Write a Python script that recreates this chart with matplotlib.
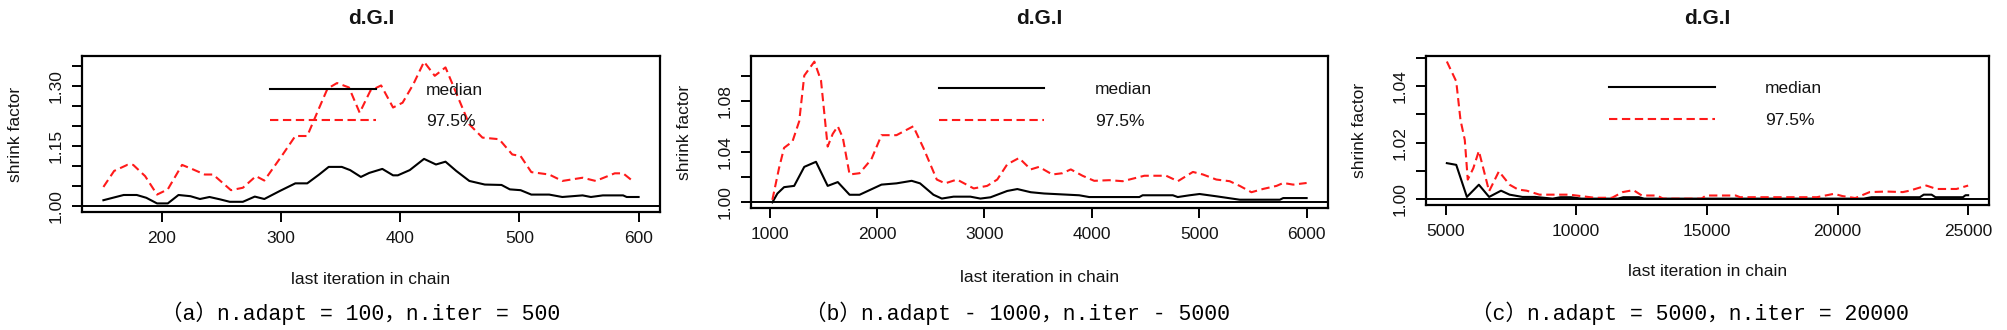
import matplotlib
matplotlib.use("Agg")
import matplotlib.pyplot as plt
from matplotlib.lines import Line2D

# ---- data: Gelman-Rubin shrink factor for d.G.I, three run lengths ----
# (a) n.adapt = 100, n.iter = 500
a_med_x = [151, 168, 179, 187, 196, 205, 214, 224, 232, 240, 249, 257, 268, 278, 286,
           299, 312, 322, 332, 340, 351, 358, 367, 374, 385, 394, 398, 408, 420, 430,
           438, 447, 458, 471, 485, 492, 501, 510, 525, 536, 553, 560, 570, 587, 590, 600]
a_med_y = [1.015, 1.028, 1.028, 1.021, 1.007, 1.007, 1.028, 1.025, 1.018, 1.023, 1.017,
           1.011, 1.011, 1.024, 1.018, 1.038, 1.057, 1.057, 1.079, 1.098, 1.098, 1.090,
           1.073, 1.083, 1.093, 1.077, 1.077, 1.090, 1.118, 1.104, 1.111, 1.088, 1.063,
           1.054, 1.053, 1.042, 1.040, 1.029, 1.029, 1.023, 1.027, 1.023, 1.027, 1.027,
           1.023, 1.023]
a_q97_x = [151, 160, 171, 176, 186, 196, 205, 217, 226, 236, 243, 258, 268, 279, 286,
           301, 312, 322, 331, 339, 347, 357, 366, 375, 384, 394, 402, 411, 420, 429,
           438, 448, 458, 469, 483, 494, 501, 510, 525, 536, 553, 564, 580, 587, 595]
a_q97_y = [1.048, 1.088, 1.103, 1.103, 1.075, 1.029, 1.042, 1.103, 1.092, 1.079, 1.079,
           1.040, 1.046, 1.075, 1.064, 1.127, 1.175, 1.175, 1.238, 1.293, 1.307, 1.296,
           1.233, 1.288, 1.301, 1.246, 1.258, 1.304, 1.360, 1.325, 1.346, 1.275, 1.204,
           1.171, 1.167, 1.129, 1.125, 1.085, 1.079, 1.063, 1.071, 1.063, 1.082, 1.082,
           1.063]

# (b) n.adapt = 1000, n.iter = 5000
b_med_x = [1025, 1072, 1134, 1228, 1322, 1431, 1540, 1634, 1744, 1837, 2041, 2181, 2322,
           2400, 2525, 2603, 2712, 2869, 2962, 3056, 3212, 3306, 3431, 3555, 3882, 3975,
           4442, 4473, 4754, 4800, 4910, 5003, 5159, 5377, 5751, 5782, 6000]
b_med_y = [1.000, 1.007, 1.012, 1.013, 1.028, 1.032, 1.013, 1.016, 1.006, 1.006, 1.014,
           1.015, 1.017, 1.015, 1.006, 1.003, 1.0045, 1.0045, 1.003, 1.004, 1.009, 1.0105,
           1.008, 1.007, 1.0056, 1.0042, 1.0042, 1.0056, 1.0056, 1.0042, 1.0056, 1.0066,
           1.0048, 1.0021, 1.0021, 1.0034, 1.0034]
b_q97_x = [1025, 1087, 1134, 1212, 1275, 1322, 1416, 1478, 1540, 1587, 1634, 1681, 1744,
           1837, 1947, 2041, 2181, 2337, 2431, 2556, 2634, 2744, 2900, 3025, 3119, 3212,
           3322, 3431, 3508, 3632, 3726, 3804, 3913, 4022, 4162, 4287, 4349, 4489, 4692,
           4801, 4941, 5034, 5159, 5283, 5377, 5486, 5595, 5720, 5782, 5875, 6000]
b_q97_y = [1.002, 1.027, 1.043, 1.048, 1.064, 1.100, 1.111, 1.096, 1.044, 1.054, 1.060,
           1.051, 1.022, 1.023, 1.034, 1.053, 1.053, 1.060, 1.043, 1.018, 1.015, 1.018,
           1.011, 1.013, 1.018, 1.030, 1.035, 1.026, 1.028, 1.022, 1.023, 1.026, 1.021,
           1.017, 1.0175, 1.0167, 1.018, 1.021, 1.021, 1.0167, 1.024, 1.022, 1.018,
           1.0167, 1.013, 1.008, 1.0106, 1.013, 1.0153, 1.014, 1.0153]

# (c) n.adapt = 5000, n.iter = 20000
c_med_x = [5049, 5408, 5816, 6274, 6666, 7123, 7450, 7940, 8430, 9100, 9400, 9800, 10200,
           11600, 11800, 12400, 12600, 21000, 21300, 23150, 23300, 23600, 23750, 24800,
           24900, 25000]
c_med_y = [1.0128, 1.0122, 1.0009, 1.0052, 1.0009, 1.0031, 1.0017, 1.0009, 1.0009, 1.0003,
           1.0008, 1.0008, 1.0003, 1.0003, 1.0008, 1.0008, 1.0003, 1.0003, 1.0008, 1.0008,
           1.0017, 1.0017, 1.0008, 1.0008, 1.0015, 1.0015]
c_q97_x = [5049, 5408, 5571, 5735, 5849, 6061, 6274, 6666, 7041, 7450, 7776, 8103, 8593,
           9736, 10716, 11369, 11777, 12186, 12512, 13084, 13329, 14800, 14963, 16106,
           16270, 19210, 19864, 20190, 20680, 21230, 21870, 22500, 22760, 23400, 23790,
           24550, 25000]
c_q97_y = [1.0486, 1.0416, 1.028, 1.021, 1.007, 1.011, 1.0171, 1.0029, 1.0099, 1.0052,
           1.0035, 1.0031, 1.0017, 1.0017, 1.0006, 1.0006, 1.0026, 1.0033, 1.0014, 1.0014,
           1.0003, 1.0003, 1.0014, 1.0014, 1.0008, 1.0008, 1.002, 1.0012, 1.0005, 1.0026,
           1.0028, 1.0026, 1.0031, 1.0049, 1.0037, 1.0037, 1.0049]

x_ticks = [[200, 300, 400, 500, 600],
           [1000, 2000, 3000, 4000, 5000, 6000],
           [5000, 10000, 15000, 20000, 25000]]
y_ticks = [[1.00, 1.05, 1.10, 1.15, 1.20, 1.25, 1.30, 1.35],
           [1.00, 1.02, 1.04, 1.06, 1.08, 1.10],
           [1.00, 1.01, 1.02, 1.03, 1.04, 1.05]]
y_labelled = [[1.00, 1.15, 1.30], [1.00, 1.04, 1.08], [1.00, 1.02, 1.04]]

captions = ["（a）n.adapt = 100，n.iter = 500",
            "（b）n.adapt - 1000，n.iter - 5000",
            "（c）n.adapt = 5000，n.iter = 20000"]

series = [(a_med_x, a_med_y, a_q97_x, a_q97_y),
          (b_med_x, b_med_y, b_q97_x, b_q97_y),
          (c_med_x, c_med_y, c_q97_x, c_q97_y)]

# ---- layout in pixels: left, top, right, bottom of each plot box ----
W, H = 2008, 330
boxes = [(82, 56, 660, 212), (751, 56, 1328, 208), (1426, 56, 1989, 205)]
xlab_y = [280, 277, 272]
caption_x = [361, 1018, 1690]
caption_y = 313

SANS = "Liberation Sans"
TXT = "#141414"
RED = "#ff1a1a"
DASH = (0, (4.0, 2.2))

fig = plt.figure(figsize=(W / 100, H / 100), dpi=100)
fig.patch.set_facecolor("white")


def r_range(lo, hi):
    pad = (hi - lo) * 0.04
    return lo - pad, hi + pad


for i, (mx, my, qx, qy) in enumerate(series):
    l, t, r, b = boxes[i]
    ax = fig.add_axes([l / W, 1 - b / H, (r - l) / W, (b - t) / H])

    ax.plot(mx, my, color="black", lw=1.5, solid_joinstyle="round")
    ax.plot(qx, qy, color=RED, lw=1.5, linestyle=DASH)
    ax.axhline(1.0, color="black", lw=1.4)

    xlo = min(mx[0], qx[0])
    xhi = max(mx[-1], qx[-1])
    ax.set_xlim(*r_range(xlo, xhi))
    ax.set_ylim(*r_range(1.0, max(max(my), max(qy))))

    ax.set_xticks(x_ticks[i])
    ax.set_xticklabels([str(v) for v in x_ticks[i]], fontfamily=SANS,
                       fontsize=12.5, color=TXT)
    ax.set_yticks(y_ticks[i])
    ylabs = ["%.2f" % v if any(abs(v - w) < 1e-9 for w in y_labelled[i]) else ""
             for v in y_ticks[i]]
    ax.set_yticklabels(ylabs, rotation=90, va="center", fontfamily=SANS,
                       fontsize=12.5, color=TXT)
    ax.tick_params(axis="both", direction="out", length=7, width=1.4, color="black")
    ax.tick_params(axis="x", pad=7)
    ax.tick_params(axis="y", pad=6)
    for sp in ax.spines.values():
        sp.set_linewidth(1.6)
        sp.set_color("black")

    handles = [Line2D([], [], color="black", lw=1.5),
               Line2D([], [], color=RED, lw=1.5, linestyle=DASH)]
    ax.legend(handles, ["median", "97.5%"], loc="upper left",
              bbox_to_anchor=(0.325, 0.83), frameon=False, borderpad=0,
              borderaxespad=0, handlelength=6.1, handletextpad=2.9,
              labelspacing=0.95, prop={"family": SANS, "size": 12.5},
              labelcolor=TXT)

    cx = (l + r) / 2
    fig.text(cx / W, 1 - 18 / H, "d.G.I", ha="center", va="center",
             fontfamily=SANS, fontweight="bold", fontsize=15, color=TXT)
    fig.text((l - 66) / W, 1 - ((t + b) / 2) / H, "shrink factor", rotation=90,
             ha="center", va="center", fontfamily=SANS, fontsize=12.5, color=TXT)
    fig.text(cx / W, 1 - xlab_y[i] / H, "last iteration in chain", ha="center",
             va="center", fontfamily=SANS, fontsize=12.5, color=TXT)
    fig.text(caption_x[i] / W, 1 - caption_y / H, captions[i], ha="center",
             va="center", family=["Liberation Mono", "Noto Sans CJK SC"],
             fontsize=15.5, color="black")

fig.savefig("out.png", dpi=100, facecolor="white")
